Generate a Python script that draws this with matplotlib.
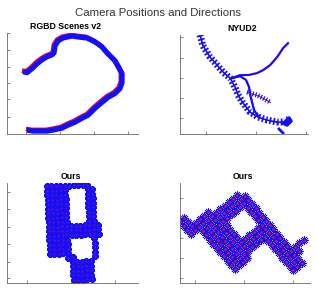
import numpy as np
import matplotlib.pyplot as plt
from matplotlib import transforms

plt.rcParams['font.family'] = ['Liberation Sans', 'DejaVu Sans']

# all coordinates below are in pixel units of the original figure (y grows downward)

# RGBD Scenes v2 trajectory
rgbd_x = [23, 27, 32, 37, 42, 47, 52, 54, 55, 58, 63, 72, 78, 87, 95, 102, 108, 115,
          119, 122, 122, 120, 115, 108, 102, 95, 88, 82, 75, 68, 62, 53, 47, 40, 33, 27]
rgbd_y = [71, 72, 68, 63, 59, 56, 54, 52, 45, 40, 37, 35, 36, 37, 41, 46, 53, 60,
          67, 73, 82, 88, 93, 97, 102, 108, 115, 118, 122, 125, 128, 130, 131, 131, 131, 130]

# NYUD2 trajectories
nyu_trunk_x = [200, 203, 210, 217, 223, 230, 235, 238, 243, 250, 258, 267, 277, 285, 289]
nyu_trunk_y = [35, 46, 57, 65, 72, 78, 87, 95, 103, 112, 117, 120, 122, 122, 119]
nyu_loop_x = [232, 240, 246, 249, 250, 252, 254, 258]
nyu_loop_y = [78, 76, 80, 87, 94, 102, 110, 116]
nyu_branch_x = [232, 240, 248, 257, 263, 270, 277, 283, 288]
nyu_branch_y = [78, 75, 75, 73, 70, 65, 57, 48, 43]
nyu_side_x = [247, 257, 263, 270]
nyu_side_y = [92, 95, 98, 102]
nyu_hook_x = [285, 289, 291, 287, 283]
nyu_hook_y = [122, 118, 121, 125, 123]
nyu_tail_x = [279, 283]
nyu_tail_y = [129, 133]

# "Ours" camera grids (one character per camera position)
ours_a_mask = [
    "##########..",
    "#####....##.",
    "#####....##.",
    "#####....##.",
    "#####....##.",
    "#####....##.",
    "#####....##.",
    "#####....##.",
    "#####....##.",
    "############",
    "############",
    "############",
    "#####.....#.",
    "#####.....#.",
    "#####.....#.",
    "#####.....#.",
    "....##....#.",
    ".....#####..",
    ".....#####..",
    ".....#####..",
    ".....#####..",
    ".....#####..",
]
ours_b_mask = [
    ".................#...",
    ".................#...",
    ".................##..",
    "....#################",
    "...##################",
    "...###....###########",
    "...###....###........",
    "...###....###........",
    "...###....###........",
    "...##########........",
    "..############.......",
    "..############.......",
    "..############.......",
    "..############.......",
    "####.................",
    "####.................",
]

BLUE = '#1010ff'
RED = '#e01030'


def lattice(mask, origin, step, col_dir, row_dir):
    pts = []
    for r, row in enumerate(mask):
        for c, ch in enumerate(row):
            if ch == '#':
                pts.append((origin[0] + step * (c * col_dir[0] + r * row_dir[0]),
                            origin[1] + step * (c * col_dir[1] + r * row_dir[1])))
    pts = np.array(pts)
    return pts[:, 0], pts[:, 1]


def setup(ax, box, title, title_x, xticks, yticks):
    l, t, r, b = box
    ax.set_xlim(l, r)
    ax.set_ylim(b, t)
    ax.set_xticks(xticks)
    ax.set_yticks(yticks)
    ax.set_xticklabels([])
    ax.set_yticklabels([])
    ax.tick_params(direction='in', length=2, width=0.5, colors='#555555')
    for s in ['top', 'right']:
        ax.spines[s].set_visible(False)
    for s in ['left', 'bottom']:
        ax.spines[s].set_color('#666666')
        ax.spines[s].set_linewidth(0.6)
    ax.set_title(title, fontsize=6.3, fontweight='bold', x=(title_x - l) / (r - l), pad=3)


fig = plt.figure(figsize=(3.17, 2.93), dpi=100)
W, H = 317.0, 293.0


def add_axes(box):
    l, t, r, b = box
    return fig.add_axes([l / W, 1 - b / H, (r - l) / W, (b - t) / H])


fig.text(158 / W, 1 - 13 / H, 'Camera Positions and Directions', ha='center', va='center',
         fontsize=8.2, color='#333333')

# top left
box1 = (7, 33, 138, 134)
ax1 = add_axes(box1)
setup(ax1, box1, 'RGBD Scenes v2', 66, [26, 60, 94, 128], [32, 49, 66, 82, 99, 117])
shift = transforms.offset_copy(ax1.transData, fig=fig, x=-0.8, y=0.8, units='points')
ax1.plot(rgbd_x, rgbd_y, color=RED, lw=3.4, transform=shift, solid_capstyle='butt')
ax1.plot(rgbd_x, rgbd_y, color=BLUE, lw=3.8, solid_capstyle='butt')

# top right
box2 = (180, 35, 308, 134)
ax2 = add_axes(box2)
setup(ax2, box2, 'NYUD2', 242, [206, 256, 306], [37, 58, 78, 98, 118])
shift2 = transforms.offset_copy(ax2.transData, fig=fig, x=0.4, y=-0.4, units='points')
for xs, ys in [(nyu_trunk_x, nyu_trunk_y), (nyu_loop_x, nyu_loop_y), (nyu_branch_x, nyu_branch_y),
               (nyu_side_x, nyu_side_y), (nyu_hook_x, nyu_hook_y), (nyu_tail_x, nyu_tail_y)]:
    ax2.plot(xs, ys, color=RED, lw=0.8, transform=shift2)
ax2.plot(nyu_trunk_x, nyu_trunk_y, color=BLUE, lw=5, dashes=(0.25, 0.3))
ax2.plot(nyu_trunk_x, nyu_trunk_y, color=BLUE, lw=1.0)
ax2.plot(nyu_loop_x, nyu_loop_y, color=BLUE, lw=1.6)
ax2.plot(nyu_branch_x, nyu_branch_y, color=BLUE, lw=1.4)
ax2.plot(nyu_side_x, nyu_side_y, color=BLUE, lw=3.5, dashes=(0.25, 0.35))
ax2.plot(nyu_hook_x, nyu_hook_y, color=BLUE, lw=2.5)
ax2.plot(nyu_tail_x, nyu_tail_y, color=BLUE, lw=2.0)

# bottom left
box3 = (7, 183, 138, 283)
ax3 = add_axes(box3)
setup(ax3, box3, 'Ours', 71, [27, 71, 115], [192, 209, 227, 244, 262, 278])
a = np.deg2rad(2.5)
ax_, ay_ = lattice(ours_a_mask, (47, 186.5), 4.5, (np.cos(a), -np.sin(a)), (np.sin(a), np.cos(a)))
ax3.plot(ax_, ay_, ls='none', marker=(12, 2, 0), ms=4.6, mew=1.0, color=BLUE)
ax3.plot(ax_, ay_, ls='none', marker='o', ms=1.4, mew=0, color=RED, alpha=0.6)

# bottom right
box4 = (180, 183, 310, 283)
ax4 = add_axes(box4)
setup(ax4, box4, 'Ours', 243, [195, 244, 293], [198, 218, 238, 258, 278])
e1 = (np.cos(np.deg2rad(50)), np.sin(np.deg2rad(50)))
e2 = (np.cos(np.deg2rad(40)), -np.sin(np.deg2rad(40)))
step = 5.5
org = (188 - step * e1[0] + 14 * step * e2[0], 222 - step * e1[1] + 14 * step * e2[1])
bx, by = lattice(ours_b_mask, org, step, e1, (-e2[0], -e2[1]))
ax4.plot(bx, by, ls='none', marker=(12, 2, 0), ms=6.0, mew=0.5, color=BLUE)
ax4.plot(bx, by, ls='none', marker='o', ms=2.0, mew=0, color=RED)

fig.savefig('out.png', dpi=100)
